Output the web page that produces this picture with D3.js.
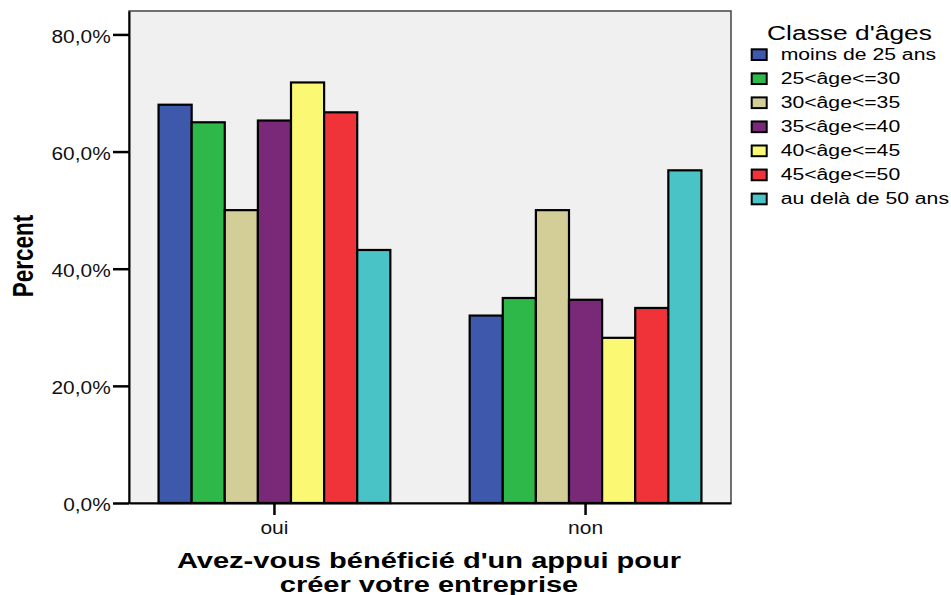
<html>
<script src="https://d3js.org/d3.v7.min.js"></script>
<body style="margin:0;background:#fff">
<svg id="chart"></svg>
<script>
    // chart values
    const groups = ["oui", "non"];
    const ageClasses = ["moins de 25 ans", "25<âge<=30", "30<âge<=35", "35<âge<=40",
                        "40<âge<=45", "45<âge<=50", "au delà de 50 ans"];
    const ouiValues = [68.0, 65.0, 50.0, 65.3, 71.8, 66.7, 43.2];
    const nonValues = [32.0, 35.0, 50.0, 34.7, 28.2, 33.3, 56.8];
    const yTicks = [0, 20, 40, 60, 80];
    const colors = ["#3e58ac", "#2fb84a", "#d3cd97", "#7a2878", "#fbf874", "#ef3339", "#49c3c6"];

    const width = 951, height = 595;
    const font = "'Liberation Sans', Arial, sans-serif";
    const plot = {left: 129, right: 731, top: 11, bottom: 503};

    const svg = d3.select('#chart').attr('width', width).attr('height', height)
        .style('font-family', font);

    const x = d3.scaleBand().domain(groups).range([plot.left, plot.right])
        .paddingInner(0.255).paddingOuter(0.095);
    const xInner = d3.scaleBand().domain(ageClasses).range([0, x.bandwidth()]);
    const y = d3.scaleLinear().domain([0, 84]).range([plot.bottom, plot.top]);
    const color = d3.scaleOrdinal().domain(ageClasses).range(colors);

    const locale = d3.formatLocale({decimal: ",", thousands: " ", grouping: [3], currency: ["", "€"]});
    const fmt = locale.format(".1f");

    // plot background + frame
    svg.append('rect')
        .attr('x', plot.left).attr('y', plot.top)
        .attr('width', plot.right - plot.left).attr('height', plot.bottom - plot.top)
        .style('fill', '#f0f0f0').style('stroke', '#444').style('stroke-width', 1.5);

    // bars
    const rows = groups.map((g, i) => ({
        group: g,
        values: (i === 0 ? ouiValues : nonValues).map((v, j) => ({key: ageClasses[j], value: v}))
    }));

    svg.append('g').selectAll('g')
        .data(rows)
        .enter().append('g')
        .attr('transform', d => 'translate(' + x(d.group) + ',0)')
        .selectAll('rect')
        .data(d => d.values)
        .enter().append('rect')
        .attr('x', d => xInner(d.key))
        .attr('y', d => y(d.value))
        .attr('width', xInner.bandwidth())
        .attr('height', d => y(0) - y(d.value))
        .style('fill', d => color(d.key))
        .style('stroke', '#000')
        .style('stroke-width', 2.2);

    // y axis
    const yAxis = svg.append('g')
        .attr('transform', 'translate(' + plot.left + ',0)')
        .call(d3.axisLeft(y).tickValues(yTicks).tickSize(16).tickSizeOuter(0)
            .tickFormat(d => fmt(d) + '%'));
    yAxis.select('.domain').style('stroke', '#000').style('stroke-width', 2);
    yAxis.selectAll('.tick line').style('stroke', '#000').style('stroke-width', 2.5);
    yAxis.selectAll('.tick text')
        .attr('x', 0).attr('dy', null)
        .attr('transform', 'translate(-18.3,7.6) scale(1.18,1)')
        .style('font-family', font).style('font-size', '17.7px').style('fill', '#111');

    // x axis
    const xAxis = svg.append('g')
        .attr('transform', 'translate(0,' + plot.bottom + ')')
        .call(d3.axisBottom(x).tickSize(12).tickSizeOuter(0));
    xAxis.select('.domain').style('stroke', '#000').style('stroke-width', 2);
    xAxis.selectAll('.tick line').style('stroke', '#000').style('stroke-width', 2.5);
    xAxis.selectAll('.tick text')
        .attr('y', 0).attr('dy', null)
        .attr('transform', 'translate(0,31) scale(1.2,1)')
        .style('font-family', font).style('font-size', '17.5px').style('fill', '#111');

    // axis titles
    svg.append('text')
        .attr('transform', 'translate(33,256) scale(1.35,1) rotate(-90)')
        .attr('text-anchor', 'middle')
        .style('font-weight', 'bold').style('font-size', '22.5px')
        .text('Percent');

    const xTitle = ["Avez-vous bénéficié d'un appui pour", "créer votre entreprise"];
    svg.append('g').selectAll('text')
        .data(xTitle)
        .enter().append('text')
        .attr('transform', (d, i) => 'translate(429,' + (568 + i * 23.5) + ') scale(1.32,1)')
        .attr('text-anchor', 'middle')
        .style('font-weight', 'bold').style('font-size', '22px')
        .text(d => d);

    // legend
    const legend = svg.append('g');
    legend.append('text')
        .attr('transform', 'translate(849.5,39.5) scale(1.32,1)')
        .attr('text-anchor', 'middle')
        .style('font-size', '20px')
        .text("Classe d'âges");

    const item = legend.selectAll('.item')
        .data(ageClasses)
        .enter().append('g')
        .attr('class', 'item')
        .attr('transform', (d, i) => 'translate(0,' + (48.3 + i * 24.05) + ')');

    item.append('rect')
        .attr('x', 751.7).attr('y', 1)
        .attr('width', 15).attr('height', 10.7)
        .style('fill', d => color(d))
        .style('stroke', '#000').style('stroke-width', 2);

    item.append('text')
        .attr('transform', 'translate(780.7,11.4) scale(1.34,1)')
        .style('font-size', '15.8px')
        .text(d => d);
</script>
</body>
</html>
